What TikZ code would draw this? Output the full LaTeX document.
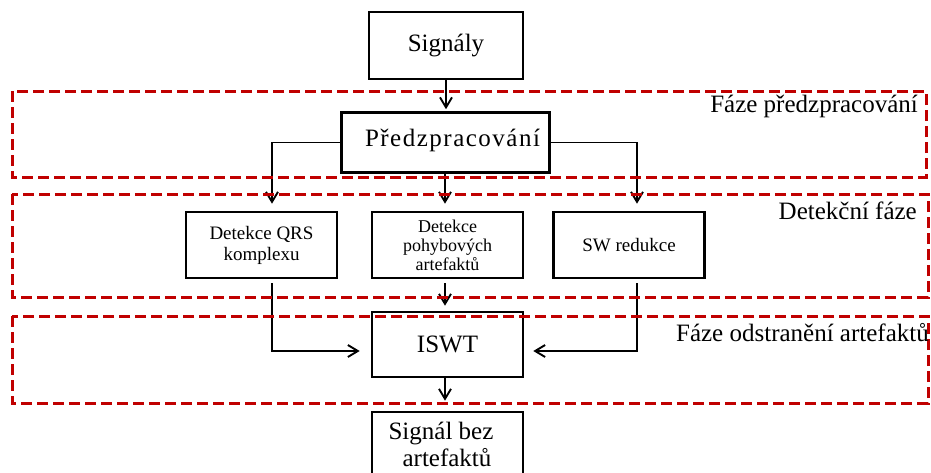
\documentclass[tikz,border=0pt]{standalone}
\usepackage{fontspec}
\setmainfont{Liberation Serif}
\usetikzlibrary{arrows.meta,calc}
\definecolor{phasered}{HTML}{C00000}
\begin{document}
\begin{tikzpicture}[x=1pt,y=-1pt,
  box/.style={draw=black,line width=2.6pt,minimum width=151pt,minimum height=66pt,inner sep=0pt,align=center},
  bigtext/.style={font=\fontsize{25}{27}\selectfont},
  smalltext/.style={font=\fontsize{19}{21}\selectfont},
  arr/.style={draw=black,line width=1.9pt,-{Straight Barb[length=10pt,width=12pt,line width=1.9pt]}},
  phase/.style={draw=phasered,line width=3pt,dash pattern=on 11pt off 5pt},
  phaselabel/.style={font=\fontsize{25}{27}\selectfont,anchor=base east,inner sep=0pt}]
\clip (0,0) rectangle (931,472);
\fill[white] (0,0) rectangle (931,472);

\node[box,bigtext,minimum width=154pt,minimum height=67pt] (sig) at (446,45.5) {Signály};
\node[box,minimum width=208pt,minimum height=60pt] (pre) at (445.5,142.5) {};
\node[bigtext,anchor=base,inner sep=0pt] (pretext) at (452.5,146) {\addfontfeatures{LetterSpace=6}Předzpracování};

\node[box,font=\fontsize{19}{21}\selectfont] (qrs) at (261.5,245) {Detekce QRS\\komplexu};
\node[box,font=\fontsize{18}{19}\selectfont] (pohyb) at (447.5,245) {Detekce\\pohybových\\artefaktů};
\node[box,smalltext] (sw) at (629,245) {SW redukce};

\node[box,bigtext,minimum height=65pt] (iswt) at (447.5,344.5) {ISWT};
\node[box,minimum height=76pt] (out) at (447.5,450) {};
\node[bigtext,anchor=base,inner sep=0pt] (out1) at (441,439) {Signál bez};
\node[bigtext,anchor=base,inner sep=0pt] (out2) at (447,466.5) {artefaktů};

\coordinate (lx) at (272,0);
\coordinate (rx) at (637,0);
\coordinate (my) at (0,351);

% connectors
\draw[arr,shorten >=2pt] (sig.south) -- (pre.north -| sig.south);
\draw[arr,shorten >=7pt] (pre.west) -| (qrs.north -| lx);
\draw[arr,shorten >=7pt] (pre.east) -| (sw.north -| rx);
\draw[arr,shorten >=7pt] (pre.south -| 445,0) -- (pohyb.north -| 445,0);
\draw[arr,shorten <=4pt,shorten >=11pt] (qrs.south -| lx) |- (iswt.west |- my);
\draw[arr,shorten <=4pt,shorten >=9pt] (sw.south -| rx) |- (iswt.east |- my);
\draw[arr,shorten <=4pt,shorten >=5pt] (pohyb.south -| 445,0) -- (iswt.north -| 445,0);
\draw[arr,shorten >=10pt] (iswt.south -| 445,0) -- (out.north -| 445,0);

% phases
\draw[phase] (12,91) rectangle (926,177);
\draw[phase] (12,194) rectangle (928,297);
\draw[phase] (12,316) rectangle (928,403);
\node[phaselabel] (l1) at (918,112) {Fáze předzpracování};
\node[phaselabel] (l2) at (917,219) {Detekční fáze};
\node[phaselabel] (l3) at (929,341.5) {Fáze odstranění artefaktů};
\end{tikzpicture}
\end{document}
